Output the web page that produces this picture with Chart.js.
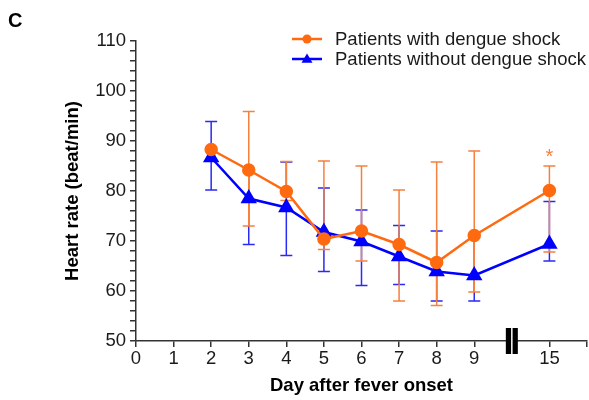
<!DOCTYPE html>
<html>
<head>
<meta charset="utf-8">
<script src="https://cdn.jsdelivr.net/npm/chart.js@4.4.1/dist/chart.umd.min.js"></script>
<style>
  html, body { margin: 0; padding: 0; background: #fff; }
  #wrap { width: 589px; height: 400px; position: relative; }
</style>
</head>
<body>
<div id="wrap"><canvas id="chart"></canvas></div>
<script>
  /* ─── Data ─── */
  const days = [2, 3, 4, 5, 6, 7, 8, 9, 15];
  const xTickDays = [0, 1, 2, 3, 4, 5, 6, 7, 8, 9, 15];

  const shockMean = [88.3, 84.2, 79.9, 70.4, 72.0, 69.3, 65.7, 71.1, 80.1];
  const shockLow  = [null, 73.0, 78.1, 68.3, 66.0, 58.0, 57.1, 59.8, 67.8];
  const shockHigh = [null, 95.9, 85.9, 86.0, 85.0, 80.2, 85.8, 88.0, 85.0];

  const noShockMean = [86.7, 78.5, 76.7, 71.8, 69.9, 66.9, 63.9, 63.1, 69.4];
  const noShockLow  = [80.2, 69.3, 67.1, 63.9, 61.1, 61.3, 58.0, 58.0, 66.0];
  const noShockHigh = [93.9, 84.0, 85.8, 80.6, 76.2, 73.1, 72.0, 71.2, 77.9];

  const seriesLabels = ["Patients with dengue shock", "Patients without dengue shock"];
  const starDay = 15;
  const starValue = 87.8;

  const ORANGE = "#ff6a10";
  const ORANGE_BAR = "#f5813f";
  const BLUE = "#0000ff";
  const BLUE_BAR = "#2a2af5";
  const AXIS = "#333";
  const FONT = "Arial, 'Liberation Sans', sans-serif";
  const FS = 18.5;

  // broken axis: days after 9 are pulled in so that 15 sits one step past the break
  const pos = (d) => (d <= 9 ? d : d - 4);
  const toPoints = (vals) => vals.map((v, i) => ({ x: pos(days[i]), y: v }));

  /* ─── Plugins ─── */
  const errorBars = {
    id: "errorBars",
    beforeDatasetsDraw(chart) {
      const { ctx, scales: { x, y } } = chart;
      const sets = [
        [noShockLow, noShockHigh, BLUE_BAR],
        [shockLow, shockHigh, ORANGE_BAR],
      ];
      ctx.save();
      ctx.lineWidth = 1.5;
      sets.forEach(([lo, hi, col]) => {
        ctx.strokeStyle = col;
        days.forEach((d, i) => {
          if (lo[i] == null) return;
          const px = x.getPixelForValue(pos(d));
          const y1 = y.getPixelForValue(lo[i]);
          const y2 = y.getPixelForValue(hi[i]);
          ctx.beginPath();
          ctx.moveTo(px, y1); ctx.lineTo(px, y2);
          ctx.moveTo(px - 6, y1); ctx.lineTo(px + 6, y1);
          ctx.moveTo(px - 6, y2); ctx.lineTo(px + 6, y2);
          ctx.stroke();
        });
      });
      ctx.restore();
    },
  };

  const extras = {
    id: "extras",
    afterDraw(chart) {
      const { ctx, scales: { x, y } } = chart;
      ctx.save();

      // axis break
      const bx = x.getPixelForValue(10);
      const by = y.getPixelForValue(50);
      ctx.fillStyle = "#000";
      ctx.fillRect(bx - 6, by - 13, 12, 26);
      ctx.fillStyle = "#fff";
      ctx.fillRect(bx - 0.75, by - 13, 1.5, 26);

      // significance star
      ctx.fillStyle = ORANGE_BAR;
      ctx.font = `20px ${FONT}`;
      ctx.textAlign = "center";
      ctx.textBaseline = "middle";
      ctx.fillText("*", x.getPixelForValue(pos(starDay)), y.getPixelForValue(starValue) + 5);

      // panel letter
      ctx.fillStyle = "#000";
      ctx.font = `bold 20px ${FONT}`;
      ctx.textAlign = "left";
      ctx.textBaseline = "alphabetic";
      ctx.fillText("C", 8, 27);

      // legend
      const rows = [
        { col: ORANGE, style: "circle", r: 4.5 },
        { col: BLUE, style: "triangle", r: 5.5 },
      ];
      ctx.font = `${FS}px ${FONT}`;
      rows.forEach((row, i) => {
        const ly = 39 + i * 20;
        ctx.strokeStyle = row.col;
        ctx.lineWidth = 2.5;
        ctx.beginPath();
        ctx.moveTo(292, ly); ctx.lineTo(322, ly);
        ctx.stroke();
        ctx.fillStyle = row.col;
        ctx.beginPath();
        if (row.style === "circle") {
          ctx.arc(307, ly, row.r, 0, Math.PI * 2);
        } else {
          ctx.moveTo(307, ly - row.r);
          ctx.lineTo(307 + row.r, ly + row.r * 0.7);
          ctx.lineTo(307 - row.r, ly + row.r * 0.7);
          ctx.closePath();
        }
        ctx.fill();
        ctx.fillStyle = "#1a1a1a";
        ctx.textBaseline = "middle";
        ctx.fillText(seriesLabels[i], 335, ly + 1);
      });

      ctx.restore();
    },
  };

  /* ─── Chart ─── */
  new Chart(document.getElementById("chart"), {
    type: "line",
    data: {
      datasets: [
        {
          label: seriesLabels[0],
          data: toPoints(shockMean),
          borderColor: ORANGE,
          backgroundColor: ORANGE,
          borderWidth: 2.5,
          pointStyle: "circle",
          pointRadius: 5.5,
          pointHoverRadius: 5.5,
          tension: 0,
        },
        {
          label: seriesLabels[1],
          data: toPoints(noShockMean),
          borderColor: BLUE,
          backgroundColor: BLUE,
          borderWidth: 2.5,
          pointStyle: "triangle",
          pointRadius: 7,
          pointHoverRadius: 7,
          tension: 0,
        },
      ],
    },
    options: {
      responsive: true,
      maintainAspectRatio: false,
      animation: false,
      layout: { autoPadding: false, padding: { top: 41, right: 2, left: 0, bottom: 0 } },
      plugins: { legend: { display: false }, tooltip: { enabled: false } },
      scales: {
        x: {
          type: "linear",
          min: 0,
          max: 12,
          afterBuildTicks: (s) => {
            s.ticks = xTickDays.map((d) => ({ value: pos(d) })).concat([{ value: 12 }]);
          },
          afterFit: (s) => { s.height = 59; },
          ticks: {
            autoSkip: false,
            maxRotation: 0,
            color: "#1a1a1a",
            font: { size: FS, family: FONT },
            padding: 1,
            callback: (v) => {
              const d = xTickDays.find((dd) => pos(dd) === v);
              return d === undefined ? "" : String(d);
            },
          },
          grid: { drawOnChartArea: false, tickLength: 6, color: AXIS, lineWidth: 1.5 },
          border: { color: AXIS, width: 1.5 },
          title: {
            display: true,
            text: "Day after fever onset",
            color: "#000",
            font: { size: FS, weight: "bold", family: FONT },
            padding: { top: 0, bottom: 3 },
          },
        },
        y: {
          min: 50,
          max: 110,
          afterFit: (s) => { s.width = 136; },
          ticks: {
            stepSize: 2,
            autoSkip: false,
            color: "#1a1a1a",
            font: { size: FS, family: FONT },
            padding: 4,
            callback: (v) => (v % 10 === 0 ? String(v) : ""),
          },
          grid: { drawOnChartArea: false, tickLength: 6, color: AXIS, lineWidth: 1.5 },
          border: { color: AXIS, width: 1.5 },
          title: {
            display: true,
            text: "Heart rate (beat/min)",
            color: "#000",
            font: { size: FS, weight: "bold", family: FONT },
            padding: { top: 62, bottom: 0 },
          },
        },
      },
    },
    plugins: [errorBars, extras],
  });
</script>
</body>
</html>
